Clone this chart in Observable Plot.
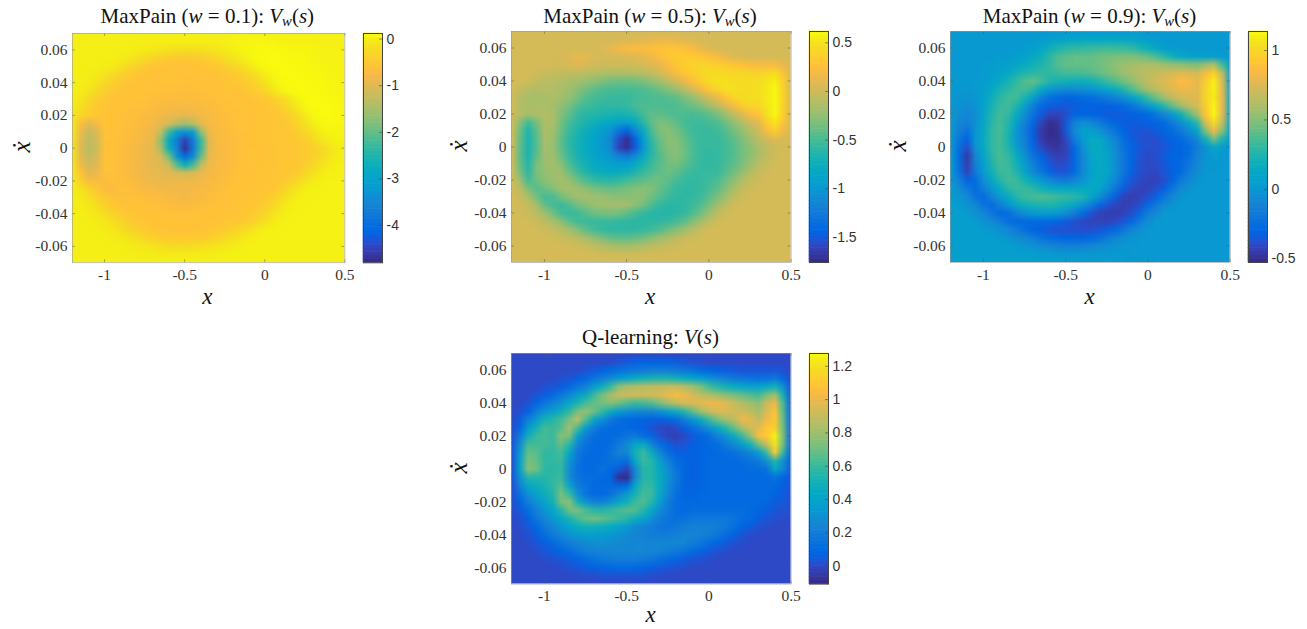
<!DOCTYPE html>
<html><head><meta charset="utf-8">
<script src="https://cdn.jsdelivr.net/npm/d3@7"></script>
<script src="https://cdn.jsdelivr.net/npm/@observablehq/plot@0.6"></script>
<style>
html,body{margin:0;padding:0;background:#fff}
#c{position:relative;width:1307px;height:629px;overflow:hidden}
#c svg{position:absolute;background:transparent;overflow:visible}
.t{position:absolute;font-family:"Liberation Serif",serif;color:#111;white-space:nowrap;transform:translate(-50%,-50%);line-height:.8}
.t sub{font-size:.7em;vertical-align:-.25em;line-height:0}
</style></head><body><div id="c"></div>
<script>
// Samples: x = -1.2..0.5 step 0.05 (35 columns); xdot = 0.07..-0.07 step -0.005 (29 rows)
const columns = 35, rows = 29;
const xTicks = [-1,-0.5,0,0.5];
const yTicks = [0.06,0.04,0.02,0,-0.02,-0.04,-0.06];

const maxPain01 = [
[0,0,0,0,0, 0,0,0,0,0, 0,0,0,0,0, 0,0,0,0,0, .01,.01,.02,.02,.02, .02,.02,.02,.02,.02, .02,.02,.02,.02,.02],
[0,0,0,0,0, 0,0,0,0,0, 0,0,0,0,0, 0,0,0,0,.02, .04,.06,.08,.08,.08, .06,.05,.04,.03,.03, .02,.02,.02,.02,.02],
[0,0,0,0,0, 0,0,0,-.02,-.05, -.08,-.12,-.15,-.18,-.2, -.2,-.18,-.14,-.1,-.05, 0,.04,.07,.09,.1, .1,.09,.08,.07,.06, .05,.04,.03,.03,.03],
[0,0,0,0,0, 0,-.03,-.08,-.15,-.25, -.35,-.42,-.48,-.52,-.52, -.5,-.48,-.4,-.32,-.22, -.12,-.03,.05,.09,.1, .11,.11,.1,.09,.08, .06,.05,.04,.03,.03],
[0,0,0,0,-.02, -.06,-.15,-.28,-.38,-.48, -.55,-.58,-.6,-.6,-.6, -.6,-.58,-.55,-.5,-.42, -.33,-.2,-.08,.02,.09, .11,.12,.11,.1,.09, .07,.06,.05,.04,.04],
[0,0,-.02,-.06,-.12, -.25,-.38,-.48,-.55,-.58, -.6,-.6,-.6,-.6,-.6, -.6,-.6,-.6,-.58,-.55, -.5,-.42,-.3,-.15,-.02, .07,.11,.12,.11,.1, .09,.08,.06,.05,.04],
[0,-.02,-.05,-.12,-.28, -.4,-.5,-.56,-.58,-.6, -.6,-.6,-.6,-.6,-.62, -.62,-.6,-.6,-.6,-.58, -.55,-.52,-.42,-.3,-.15, 0,.09,.12,.12,.11, .1,.09,.07,.06,.05],
[0,-.04,-.12,-.28,-.42, -.52,-.57,-.6,-.6,-.6, -.6,-.62,-.62,-.64,-.64, -.64,-.62,-.62,-.6,-.6, -.6,-.56,-.52,-.42,-.28, -.12,.02,.1,.12,.12, .11,.1,.08,.07,.05],
[-.02,-.1,-.28,-.42,-.52, -.58,-.6,-.6,-.62,-.62, -.65,-.66,-.68,-.68,-.68, -.68,-.66,-.64,-.62,-.6, -.6,-.6,-.58,-.56,-.52, -.42,-.28,-.12,.02,.1, .12,.11,.1,.08,.06],
[-.04,-.2,-.38,-.5,-.56, -.6,-.6,-.62,-.62,-.64, -.68,-.72,-.75,-.76,-.76, -.74,-.72,-.68,-.65,-.62, -.6,-.6,-.6,-.58,-.56, -.52,-.42,-.25,-.08,.06, .12,.12,.11,.09,.07],
[-.08,-.3,-.45,-.55,-.58, -.6,-.62,-.64,-.66,-.7, -.72,-.78,-.85,-.9,-.92, -.88,-.78,-.72,-.68,-.65, -.62,-.6,-.6,-.58,-.56, -.55,-.5,-.4,-.24,-.06, .08,.12,.11,.09,.07],
[-.1,-.7,-.95,-.75,-.56, -.6,-.62,-.64,-.68,-.72, -.8,-.95,-1.1,-1.4,-1.6, -1.4,-.95,-.76,-.7,-.66, -.62,-.6,-.6,-.58,-.56, -.55,-.54,-.48,-.34,-.18, -.02,.07,.09,.08,.07],
[-.12,-.85,-1.25,-1,-.6, -.6,-.62,-.66,-.7,-.76, -.85,-1.25,-2.3,-3.1,-3.3, -3.1,-1.7,-.85,-.72,-.68, -.64,-.6,-.6,-.58,-.56, -.55,-.54,-.52,-.42,-.3, -.14,-.01,.05,.06,.05],
[-.15,-.95,-1.3,-1.1,-.6, -.6,-.64,-.68,-.72,-.8, -.9,-1.7,-2.9,-3.7,-4.5, -3.7,-2.3,-.95,-.74,-.7, -.65,-.62,-.6,-.58,-.56, -.55,-.54,-.54,-.5,-.42, -.28,-.12,-.02,.03,.04],
[-.15,-1,-1.35,-1.15,-.6, -.62,-.66,-.72,-.76,-.85, -.95,-1.5,-2.7,-3.6,-4.7, -3.8,-2.3,-.95,-.76,-.7, -.66,-.62,-.6,-.6,-.58, -.56,-.54,-.54,-.52,-.48, -.4,-.28,-.14,-.03,.01],
[-.15,-.95,-1.25,-1.05,-.6, -.62,-.66,-.72,-.78,-.85, -.95,-1.1,-1.9,-3.3,-4, -3.5,-2,-.9,-.76,-.7, -.66,-.62,-.6,-.6,-.58, -.56,-.54,-.54,-.52,-.47, -.38,-.26,-.12,-.02,.01],
[-.12,-.85,-1.1,-.95,-.6, -.62,-.66,-.72,-.8,-.85, -.92,-.98,-1.2,-2.1,-2.7, -2.2,-1.3,-.85,-.74,-.7, -.66,-.62,-.6,-.6,-.58, -.56,-.54,-.52,-.5,-.42, -.3,-.15,-.04,.01,.02],
[-.1,-.6,-.95,-.85,-.62, -.62,-.66,-.7,-.78,-.85, -.9,-.92,-.95,-1.05,-1.1, -1.05,-.9,-.78,-.72,-.68, -.64,-.6,-.6,-.58,-.56, -.55,-.54,-.5,-.44,-.3, -.18,-.05,.01,.02,.03],
[-.05,-.4,-.7,-.7,-.68, -.62,-.64,-.68,-.72,-.8, -.85,-.88,-.86,-.84,-.84, -.82,-.78,-.74,-.7,-.66, -.62,-.6,-.58,-.58,-.56, -.55,-.5,-.42,-.3,-.14, -.03,.02,.03,.03,.03],
[-.02,-.14,-.35,-.52,-.68, -.72,-.62,-.64,-.68,-.72, -.75,-.78,-.8,-.8,-.78, -.76,-.72,-.7,-.66,-.62, -.6,-.58,-.58,-.56,-.54, -.5,-.4,-.25,-.08,0, .02,.03,.03,.03,.03],
[0,-.05,-.18,-.36,-.5, -.6,-.62,-.62,-.62,-.64, -.66,-.68,-.72,-.76,-.8, -.74,-.7,-.66,-.64,-.62, -.6,-.58,-.56,-.54,-.5, -.4,-.26,-.1,0,.02, .03,.03,.03,.03,.03],
[0,-.02,-.08,-.2,-.36, -.5,-.57,-.6,-.6,-.62, -.62,-.64,-.66,-.68,-.68, -.66,-.64,-.62,-.6,-.6, -.58,-.56,-.54,-.5,-.42, -.28,-.12,-.02,.02,.03, .03,.03,.03,.03,.03],
[0,0,-.03,-.08,-.2, -.34,-.46,-.55,-.58,-.6, -.6,-.6,-.6,-.6,-.6, -.6,-.6,-.6,-.6,-.58, -.56,-.54,-.5,-.42,-.3, -.14,-.03,.02,.03,.03, .03,.03,.03,.03,.03],
[0,0,0,-.03,-.08, -.18,-.32,-.44,-.52,-.56, -.58,-.6,-.6,-.6,-.6, -.6,-.6,-.58,-.56,-.54, -.54,-.5,-.42,-.3,-.15, -.04,.02,.03,.03,.03, .03,.03,.03,.03,.03],
[0,0,0,0,-.03, -.07,-.16,-.28,-.38,-.46, -.52,-.56,-.58,-.58,-.58, -.58,-.56,-.54,-.5,-.44, -.36,-.25,-.14,-.05,.01, .02,.03,.03,.03,.03, .03,.03,.03,.03,.03],
[0,0,0,0,0, -.02,-.05,-.1,-.18,-.27, -.36,-.42,-.46,-.48,-.48, -.46,-.44,-.4,-.33,-.25, -.16,-.08,-.02,.01,.02, .03,.03,.03,.03,.03, .03,.03,.03,.03,.03],
[0,0,0,0,0, 0,0,-.02,-.05,-.08, -.12,-.16,-.2,-.22,-.22, -.2,-.18,-.14,-.1,-.06, -.03,0,.02,.02,.02, .02,.02,.02,.02,.02, .02,.02,.02,.02,.02],
[0,0,0,0,0, 0,0,0,0,-.01, -.02,-.03,-.04,-.04,-.04, -.03,-.02,-.01,0,.01, .02,.02,.02,.02,.02, .02,.02,.02,.02,.02, .02,.02,.02,.02,.02],
[.01,.01,.01,.01,.01, .01,.01,.01,.01,.01, .01,.01,.01,.01,.01, .01,.01,.01,.01,.01, .01,.01,.01,.01,.01, .01,.01,.01,.01,.01, .01,.01,.01,.01,.01]
];
const maxPain05 = [
[.03,.03,.03,.03,.03, .03,.03,.03,.03,.03, .03,.03,.03,.03,.03, .03,.03,.03,.03,.03, .03,.03,.03,.03,.03, .03,.03,.03,.03,.03, .03,.03,.03,.03,.03],
[.03,.03,.03,.03,.03, .03,.03,.03,.03,.03, .03,.03,.04,.04,.05, .08,.1,.12,.14,.14, .12,.09,.06,.04,.03, .03,.03,.03,.03,.03, .03,.03,.03,.03,.03],
[.03,.03,.03,.03,.03, .03,.03,.03,.03,.03, .04,.05,.12,.17,.2, .22,.23,.24,.26,.28, .28,.25,.2,.14,.08, .05,.03,.03,.03,.03, .03,.03,.03,.03,.03],
[.03,.03,.03,.03,.03, .03,.04,.07,.12,.1, .05,.03,.03,.05,.07, .09,.12,.17,.24,.3, .33,.34,.33,.3,.25, .2,.14,.08,.05,.04, .03,.03,.03,.03,.03],
[.03,.03,.03,.03,.03, .02,.03,.05,.08,.05, .02,.0,0,0,0, .02,.03,.07,.12,.22, .3,.36,.38,.4,.38, .35,.33,.28,.25,.22, .2,.2,.2,.12,.03],
[.03,.03,.02,0,-.02, -.04,-.05,-.06,-.06,-.08, -.1,-.12,-.14,-.14,-.13, -.12,-.1,-.05,.02,.12, .22,.3,.36,.42,.45, .45,.43,.42,.42,.4, .38,.42,.46,.28,.03],
[.03,.02,0,-.05,-.08, -.1,-.12,-.15,-.18,-.22, -.27,-.32,-.36,-.38,-.38, -.36,-.32,-.26,-.18,-.08, .02,.12,.24,.36,.44, .48,.48,.46,.45,.45, .45,.5,.56,.36,.03],
[.02,-.05,-.1,-.13,-.12, -.12,-.15,-.2,-.28,-.36, -.42,-.47,-.5,-.5,-.5, -.5,-.47,-.43,-.38,-.3, -.22,-.1,.03,.17,.3, .4,.47,.48,.46,.46, .47,.52,.6,.38,.04],
[.02,-.1,-.15,-.17,-.15, -.14,-.18,-.25,-.35,-.45, -.5,-.53,-.55,-.55,-.55, -.52,-.5,-.48,-.47,-.45, -.42,-.33,-.25,-.12,.02, .14,.28,.4,.45,.46, .46,.53,.6,.4,.05],
[.02,-.12,-.15,-.14,-.15, -.17,-.25,-.35,-.47,-.53, -.56,-.58,-.58,-.58,-.55, -.5,-.47,-.47,-.48,-.48, -.47,-.42,-.38,-.32,-.2, -.08,.05,.2,.33,.4, .42,.5,.6,.38,.05],
[.01,-.1,-.18,-.14,-.12, -.15,-.3,-.42,-.55,-.6, -.63,-.66,-.68,-.7,-.68, -.62,-.5,-.42,-.42,-.45, -.47,-.48,-.5,-.47,-.42, -.33,-.2,-.07,.08,.2, .28,.46,.6,.36,.05],
[.01,-.28,-.52,-.35,-.14, -.15,-.35,-.5,-.6,-.68, -.72,-.8,-.85,-.92,-.95, -.85,-.6,-.42,-.32,-.35, -.42,-.5,-.53,-.53,-.5, -.47,-.38,-.25,-.12,0, .1,.35,.5,.28,.04],
[.01,-.38,-.64,-.42,-.15, -.18,-.38,-.55,-.65,-.75, -.85,-.95,-1.05,-1.3,-1.45, -1.15,-.8,-.5,-.32,-.28, -.35,-.45,-.53,-.55,-.55, -.52,-.45,-.35,-.24,-.12, 0,.22,.35,.18,.03],
[.01,-.4,-.66,-.45,-.16, -.2,-.42,-.58,-.7,-.8, -.9,-1,-1.15,-1.55,-1.72, -1.45,-.95,-.58,-.38,-.28, -.3,-.4,-.5,-.55,-.55, -.55,-.5,-.42,-.32,-.2, -.08,.02,.1,.05,.03],
[.01,-.42,-.66,-.45,-.18, -.22,-.42,-.58,-.7,-.8, -.9,-1,-1.12,-1.6,-1.72, -1.5,-1,-.62,-.42,-.3, -.28,-.38,-.48,-.55,-.56, -.56,-.52,-.45,-.36,-.27, -.15,-.07,0,.02,.03],
[.01,-.42,-.66,-.42,-.2, -.2,-.38,-.55,-.68,-.78, -.88,-.95,-1.05,-1.2,-1.3, -1.15,-.85,-.6,-.46,-.34, -.28,-.38,-.48,-.56,-.58, -.56,-.52,-.45,-.36,-.27, -.15,-.07,0,.03,.03],
[.01,-.4,-.62,-.35,-.22, -.18,-.28,-.48,-.62,-.72, -.82,-.88,-.92,-.95,-.95, -.85,-.68,-.54,-.44,-.36, -.34,-.42,-.5,-.56,-.58, -.56,-.5,-.42,-.33,-.22, -.1,-.03,.02,.03,.03],
[.01,-.35,-.58,-.32,-.25, -.2,-.2,-.38,-.52,-.64, -.74,-.78,-.8,-.78,-.75, -.66,-.56,-.48,-.42,-.38, -.42,-.5,-.55,-.56,-.56, -.55,-.46,-.36,-.25,-.13, -.04,.01,.03,.03,.03],
[.02,-.2,-.5,-.38,-.27, -.22,-.17,-.24,-.36,-.48, -.56,-.6,-.6,-.58,-.52, -.46,-.42,-.38,-.38,-.42, -.5,-.55,-.57,-.56,-.53, -.48,-.38,-.26,-.13,-.05, 0,.02,.03,.03,.03],
[.02,-.08,-.32,-.45,-.38, -.3,-.2,-.17,-.2,-.27, -.34,-.38,-.4,-.38,-.34, -.3,-.28,-.32,-.4,-.48, -.56,-.58,-.58,-.56,-.5, -.42,-.3,-.16,-.05,0, .02,.03,.03,.03,.03],
[.03,-.02,-.14,-.35,-.5, -.48,-.36,-.27,-.2,-.18, -.2,-.22,-.26,-.28,-.28, -.26,-.28,-.36,-.45,-.54, -.58,-.58,-.57,-.53,-.44, -.33,-.2,-.07,0,.02, .03,.03,.03,.03,.03],
[.03,0,-.05,-.18,-.4, -.5,-.55,-.46,-.36,-.28, -.22,-.2,-.18,-.17,-.18, -.26,-.36,-.48,-.57,-.6, -.6,-.58,-.54,-.46,-.34, -.2,-.08,0,.02,.03, .03,.03,.03,.03,.03],
[.03,.02,-.02,-.08,-.2, -.36,-.5,-.55,-.52,-.45, -.38,-.35,-.33,-.36,-.42, -.5,-.57,-.6,-.62,-.62, -.6,-.56,-.48,-.36,-.22, -.08,0,.02,.03,.03, .03,.03,.03,.03,.03],
[.03,.03,.02,-.03,-.08, -.14,-.28,-.42,-.52,-.54, -.56,-.56,-.56,-.57,-.58, -.6,-.6,-.6,-.58,-.56, -.5,-.42,-.3,-.18,-.06, 0,.02,.03,.03,.03, .03,.03,.03,.03,.03],
[.03,.03,.03,.02,0, -.04,-.1,-.18,-.3,-.42, -.5,-.55,-.58,-.58,-.58, -.58,-.55,-.52,-.46,-.38, -.3,-.2,-.1,-.02,.02, .03,.03,.03,.03,.03, .03,.03,.03,.03,.03],
[.03,.03,.03,.03,.02, .01,-.02,-.05,-.1,-.17, -.25,-.33,-.4,-.42,-.42, -.4,-.36,-.28,-.2,-.14, -.08,-.03,0,.02,.03, .03,.03,.03,.03,.03, .03,.03,.03,.03,.03],
[.03,.03,.03,.03,.03, .03,.03,.02,0,-.02, -.06,-.1,-.14,-.17,-.17, -.15,-.12,-.08,-.05,-.02, 0,.02,.03,.03,.03, .03,.03,.03,.03,.03, .03,.03,.03,.03,.03],
[.03,.03,.03,.03,.03, .03,.03,.03,.03,.03, .02,.01,0,0,0, 0,.01,.02,.02,.03, .03,.03,.03,.03,.03, .03,.03,.03,.03,.03, .03,.03,.03,.03,.03],
[.03,.03,.03,.03,.03, .03,.03,.03,.03,.03, .03,.03,.03,.03,.03, .03,.03,.03,.03,.03, .03,.03,.03,.03,.03, .03,.03,.03,.03,.03, .03,.03,.03,.03,.03]
];
const maxPain09 = [
[.01,.01,.01,.01,.01, .01,.01,.01,.01,.01, .01,.01,.01,.01,.02, .02,.02,.02,.02,.02, .02,.02,.02,.01,.01, .01,.01,.01,.01,.01, .01,.01,.01,.01,.01],
[.01,.01,.01,.01,.01, .01,.01,.01,.01,.01, .02,.03,.04,.06,.08, .1,.12,.12,.12,.12, .12,.12,.1,.07,.04, .02,.01,.01,.01,.01, .01,.01,.01,.01,.01],
[.01,.01,.01,.01,.01, .01,.01,.01,.02,.03, .05,.1,.18,.24,.28, .3,.3,.32,.33,.33, .33,.32,.3,.24,.18, .1,.05,.03,.02,.01, .01,.01,.01,.01,.01],
[.01,.01,.01,.01,.01, .01,.02,.03,.05,.07, .12,.18,.28,.36,.4, .42,.42,.42,.44,.46, .47,.48,.48,.46,.42, .36,.28,.18,.12,.08, .06,.05,.04,.03,.01],
[.01,.01,.01,.01,.02, .02,.04,.06,.1,.14, .2,.25,.3,.38,.42, .42,.42,.43,.45,.48, .52,.55,.58,.6,.6, .6,.56,.54,.52,.5, .48,.55,.6,.35,.03],
[.01,.01,.01,.01,.03, .04,.07,.12,.2,.25, .28,.3,.3,.32,.35, .35,.36,.38,.42,.46, .5,.56,.6,.63,.66, .68,.7,.72,.76,.74, .72,.85,.95,.65,.04],
[.01,.01,.01,.02,.03, .07,.14,.22,.3,.38, .42,.34,.25,.22,.2, .18,.18,.2,.25,.32, .38,.45,.52,.6,.66, .72,.76,.8,.87,.85, .78,.95,1.1,.75,.05],
[.01,0,0,.02,.05, .13,.22,.28,.34,.35, .28,.12,0,-.05,-.08, -.08,-.06,-.02,.02,.08, .15,.25,.36,.48,.58, .65,.72,.77,.8,.8, .78,.98,1.1,.78,.06],
[.01,-.02,-.03,.0,.06, .18,.28,.34,.34,.22, .05,-.14,-.24,-.28,-.3, -.3,-.27,-.25,-.22,-.18, -.12,-.05,.06,.18,.32, .45,.55,.66,.72,.75, .76,.98,1.08,.8,.07],
[.01,-.03,-.06,-.03,.06, .22,.32,.34,.24,.05, -.15,-.28,-.33,-.34,-.36, -.34,-.32,-.32,-.32,-.32, -.3,-.27,-.22,-.12,0, .14,.28,.42,.55,.66, .72,.95,1.12,.8,.08],
[.01,-.06,-.1,-.05,.08, .26,.34,.3,.15,-.05, -.22,-.34,-.42,-.42,-.38, -.3,-.3,-.3,-.32,-.34, -.34,-.34,-.32,-.3,-.27, -.2,-.1,.03,.2,.4, .58,.9,1.12,.78,.08],
[.01,-.1,-.14,-.04,.1, .28,.35,.26,.05,-.13, -.28,-.42,-.5,-.48,-.35, -.15,-.05,-.1,-.17,-.25, -.3,-.33,-.34,-.34,-.32, -.3,-.26,-.16,-.05,.12, .3,.75,1.02,.68,.06],
[.01,-.15,-.22,-.02,.12, .3,.36,.24,.0,-.18, -.33,-.46,-.52,-.5,-.35, -.1,.05,.05,-.02,-.12, -.22,-.3,-.35,-.36,-.36, -.34,-.3,-.26,-.18,-.05, .1,.5,.82,.5,.04],
[.01,-.2,-.3,.0,.14, .3,.35,.22,.0,-.15, -.32,-.45,-.5,-.5,-.4, -.18,.02,.12,.12,.0, -.12,-.25,-.33,-.37,-.38, -.38,-.34,-.3,-.27,-.2, -.08,.2,.45,.25,.01],
[.01,-.24,-.38,-.03,.12, .3,.35,.25,.05,-.12, -.28,-.4,-.47,-.48,-.42, -.28,-.05,.12,.14,.05, -.08,-.22,-.3,-.36,-.38, -.38,-.36,-.32,-.3,-.26, -.16,-.02,.12,.03,0],
[.01,-.26,-.46,-.1,.08, .28,.36,.3,.15,-.04, -.22,-.32,-.4,-.44,-.42, -.3,-.1,.08,.14,.08, -.05,-.2,-.3,-.37,-.4, -.38,-.34,-.3,-.3,-.24, -.12,-.03,.02,0,0],
[.01,-.25,-.44,-.14,.05, .25,.35,.32,.2,.02, -.15,-.26,-.35,-.4,-.39, -.29,-.1,.06,.13,.09, -.05,-.2,-.31,-.38,-.4, -.39,-.35,-.31,-.28,-.2, -.09,-.01,.01,0,0],
[.01,-.22,-.42,-.18,.02, .2,.33,.34,.25,.08, -.08,-.2,-.3,-.36,-.36, -.28,-.1,.05,.12,.1, -.05,-.2,-.32,-.38,-.4, -.4,-.36,-.32,-.27,-.16, -.06,0,0,0,0],
[.02,-.14,-.3,-.26,-.05, .1,.26,.34,.32,.22, .1,0,-.08,-.15,-.17, -.12,-.02,.08,.12,.05, -.1,-.24,-.36,-.4,-.42, -.42,-.38,-.3,-.18,-.08, -.02,0,0,0,0],
[.02,-.06,-.18,-.26,-.16, .0,.14,.28,.32,.32, .28,.2,.14,.1,.1, .1,.12,.12,.08,-.03, -.2,-.33,-.4,-.42,-.42, -.38,-.32,-.2,-.08,-.02, 0,0,0,0,0],
[.03,.0,-.08,-.22,-.26, -.12,.02,.14,.26,.32, .35,.36,.35,.32,.3, .28,.24,.12,-.03,-.2, -.32,-.42,-.44,-.42,-.38, -.3,-.2,-.08,-.02,0, 0,0,0,0,0],
[.04,.03,-.02,-.1,-.22, -.26,-.15,-.02,.1,.18, .22,.24,.25,.22,.18, .1,-.02,-.15,-.28,-.36, -.42,-.44,-.42,-.38,-.28, -.18,-.08,-.02,0,0, 0,0,0,0,0],
[.04,.04,.02,-.03,-.1, -.2,-.28,-.25,-.15,-.05, .0,.02,.02,.0,-.06, -.15,-.27,-.36,-.42,-.44, -.44,-.42,-.38,-.28,-.16, -.06,0,0,0,0, 0,0,0,0,0],
[.05,.05,.04,.02,-.03, -.08,-.16,-.24,-.28,-.28, -.28,-.27,-.28,-.3,-.34, -.37,-.4,-.42,-.42,-.42, -.4,-.36,-.28,-.16,-.06, 0,0,0,0,0, 0,0,0,0,0],
[.05,.05,.05,.05,.03, .0,-.04,-.1,-.18,-.24, -.3,-.33,-.36,-.37,-.37, -.38,-.38,-.38,-.36,-.33, -.28,-.2,-.12,-.04,0, 0,0,0,0,0, 0,0,0,0,0],
[.05,.05,.05,.05,.05, .04,.02,-.02,-.06,-.1, -.16,-.22,-.26,-.28,-.3, -.3,-.3,-.28,-.24,-.18, -.12,-.06,-.02,0,0, 0,0,0,0,0, 0,0,0,0,0],
[.05,.05,.05,.05,.05, .05,.05,.04,.03,.0, -.03,-.06,-.1,-.12,-.14, -.14,-.12,-.1,-.07,-.04, -.02,0,0,0,0, 0,0,0,0,0, 0,0,0,0,0],
[.05,.05,.05,.05,.05, .05,.05,.05,.05,.05, .04,.03,.02,.01,.0, 0,0,.01,.01,.01, .01,.01,0,0,0, 0,0,0,0,0, 0,0,0,0,0],
[.05,.05,.05,.05,.05, .05,.05,.05,.05,.05, .05,.05,.04,.04,.04, .03,.03,.03,.02,.02, .02,.01,.01,.01,.01, 0,0,0,0,0, 0,0,0,0,0]
];
const qLearning = [
[0,0,0,0,0, 0,0,0,0,0, 0,0,0,0,0, 0,0,0,0,0, 0,0,0,0,0, 0,0,0,0,0, 0,0,0,0,0],
[0,0,0,0,0, 0,0,0,0,0, 0,0,0,.02,.04, .06,.07,.07,.07,.06, .05,.03,.02,.01,0, 0,0,0,0,0, 0,0,0,0,0],
[0,0,0,0,0, 0,0,0,0,.02, .04,.07,.1,.13,.15, .17,.18,.2,.2,.2, .18,.16,.14,.1,.08, .07,.05,.04,.03,.03, .03,.03,.03,.02,0],
[0,0,0,0,0, 0,.02,.03,.06,.1, .15,.2,.28,.35,.4, .46,.5,.52,.53,.53, .5,.46,.42,.38,.32, .26,.22,.18,.16,.15, .14,.14,.18,.1,0],
[0,0,0,0,.02, .03,.05,.1,.16,.22, .35,.48,.6,.75,.82, .84,.86,.88,.88,.9, .9,.85,.8,.72,.62, .56,.5,.46,.42,.4, .4,.45,.5,.3,.02],
[0,0,.0,.03,.05, .1,.16,.25,.35,.45, .6,.72,.82,.9,.92, .92,.92,.92,.95,1, 1.03,1,.94,.88,.84, .8,.75,.72,.68,.65, .62,.72,.8,.5,.03],
[0,0,.03,.08,.15, .22,.3,.42,.52,.62, .68,.72,.75,.7,.64, .6,.62,.65,.72,.8, .88,.95,.96,.98,1, 1,.97,.9,.85,.8, .76,.9,1,.62,.04],
[0,.02,.07,.2,.3, .38,.48,.58,.72,.78, .7,.58,.45,.35,.3, .27,.25,.25,.3,.38, .46,.55,.66,.8,.9, .95,.95,.92,.92,.88, .82,.95,1.08,.65,.05],
[0,.05,.2,.35,.5, .55,.62,.72,.88,.65, .42,.3,.18,.12,.1, .08,.08,.06,.06,.08, .12,.2,.32,.46,.6, .72,.8,.88,1,.98, .88,1,1.1,.68,.05],
[.01,.1,.35,.5,.62, .6,.65,.8,.62,.35, .2,.13,.1,.1,.1, .08,.06,.03,0,-.02, .01,.06,.12,.2,.3, .42,.55,.68,.82,.92, .98,1.1,1.12,.7,.05],
[.02,.18,.48,.6,.62, .6,.75,.72,.38,.2, .13,.1,.1,.12,.15, .18,.12,.08,.02,-.02, -.03,.0,.04,.08,.12, .22,.32,.45,.6,.76, 1.05,1.1,1.25,.72,.05],
[.03,.28,.62,.62,.62, .6,.68,.55,.25,.14, .1,.1,.12,.18,.26, .4,.45,.25,.12,.06, .02,.03,.06,.08,.1, .12,.18,.26,.36,.5, .7,.9,1.2,.7,.05],
[.03,.35,.68,.66,.58, .58,.62,.42,.18,.12, .1,.1,.14,.22,.26, .5,.6,.45,.25,.12, .06,.06,.07,.08,.09, .1,.12,.14,.18,.25, .36,.6,1.1,.58,.05],
[.03,.38,.72,.68,.58, .58,.6,.32,.16,.1, .1,.12,.14,.14,.12, .42,.6,.55,.38,.22, .12,.08,.06,.08,.1, .1,.1,.1,.12,.14, .18,.3,.55,.3,.05],
[.03,.38,.75,.7,.58, .56,.58,.28,.14,.1, .1,.14,.1,.05,-.02, .25,.55,.55,.42,.28, .15,.08,.06,.08,.1, .1,.1,.1,.1,.12, .12,.15,.42,.25,.05],
[.03,.3,.55,.55,.55, .58,.6,.28,.15,.12, .12,.1,.08,-.08,-.1, .25,.55,.55,.45,.3, .17,.08,.06,.08,.1, .1,.1,.1,.1,.1, .1,.1,.14,.08,.03],
[.02,.22,.42,.48,.52, .58,.65,.4,.2,.14, .1,.1,.1,.08,.1, .4,.58,.58,.45,.28, .15,.08,.07,.08,.1, .1,.1,.1,.1,.1, .1,.1,.1,.06,.03],
[.02,.14,.3,.4,.48, .55,.72,.58,.3,.15, .1,.1,.14,.22,.35, .5,.62,.6,.42,.25, .13,.08,.08,.1,.1, .1,.1,.1,.1,.1, .1,.1,.08,.05,.02],
[.01,.08,.2,.3,.4, .5,.72,.76,.5,.32, .22,.22,.3,.4,.5, .6,.65,.55,.36,.2, .12,.1,.1,.1,.1, .1,.1,.1,.1,.1, .1,.1,.05,.04,.02],
[.01,.04,.12,.22,.32, .42,.55,.7,.72,.62, .56,.55,.58,.62,.65, .65,.55,.42,.28,.17, .12,.1,.12,.12,.12, .12,.12,.12,.12,.1, .08,.06,.03,.02,.01],
[0,.02,.07,.16,.25, .33,.42,.52,.62,.68, .7,.68,.64,.6,.55, .48,.4,.3,.2,.15, .13,.14,.16,.17,.17, .18,.17,.15,.12,.1, .06,.03,.02,.01,0],
[0,.01,.04,.1,.18, .25,.33,.4,.46,.5, .5,.48,.44,.4,.35, .28,.24,.2,.16,.15, .17,.2,.22,.22,.22, .2,.17,.13,.08,.05, .02,.01,0,0,0],
[0,0,.02,.06,.12, .18,.24,.3,.34,.36, .36,.35,.33,.3,.27, .24,.22,.2,.2,.2, .22,.24,.24,.22,.2, .16,.12,.07,.03,.01, 0,0,0,0,0],
[0,0,.01,.03,.06, .1,.15,.2,.24,.27, .3,.3,.28,.27,.26, .25,.25,.25,.25,.25, .25,.24,.2,.16,.12, .08,.05,.02,.01,0, 0,0,0,0,0],
[0,0,0,.01,.03, .05,.08,.12,.16,.2, .22,.24,.25,.25,.25, .25,.25,.24,.23,.2, .17,.14,.1,.07,.04, .02,.01,0,0,0, 0,0,0,0,0],
[0,0,0,0,.01, .02,.03,.05,.08,.11, .14,.17,.18,.2,.2, .2,.18,.16,.13,.1, .08,.05,.03,.02,.01, 0,0,0,0,0, 0,0,0,0,0],
[0,0,0,0,0, 0,.01,.02,.03,.05, .06,.08,.09,.1,.1, .09,.08,.06,.04,.03, .02,.01,0,0,0, 0,0,0,0,0, 0,0,0,0,0],
[0,0,0,0,0, 0,0,0,0,.01, .01,.02,.02,.02,.02, .02,.02,.01,.01,0, 0,0,0,0,0, 0,0,0,0,0, 0,0,0,0,0],
[0,0,0,0,0, 0,0,0,0,0, 0,0,0,0,0, 0,0,0,0,0, 0,0,0,0,0, 0,0,0,0,0, 0,0,0,0,0]
];

const parula = ["#352a87","#363093","#3637a0","#353dad","#3243ba","#2c4ac7","#2053d4","#0f5cdd","#0363e1","#0268e1","#046de0","#0871de","#0d75dc","#1079da","#127dd8","#1481d6","#1485d4","#1389d3","#108ed2","#0c93d2","#0998d1","#079ccf","#06a0cd","#06a4ca","#06a7c6","#07a9c2","#0aacbe","#0faeb9","#15b1b4","#1db3af","#25b5a9","#2eb7a4","#38b99e","#42bb98","#4dbc92","#59bd8c","#65be86","#71bf80","#7cbf7b","#87bf77","#92bf73","#9cbf6f","#a5be6b","#aebe67","#b7bd64","#c0bc60","#c8bc5d","#d1bb59","#d9ba56","#e1b952","#e9b94e","#f1b94a","#f8bb44","#fdbe3d","#ffc337","#fec832","#fccd2e","#fad32a","#f8d826","#f5de21","#f5e41d","#f5eb18","#f6f313","#f9fb0e"];

const panels = [
 {grid:maxPain01, left:71.7,  top:32.5, w:272.4, h:229.3, barL:362.7, barTop:32.8, dom:[-4.8,0.12], barTicks:[0,-1,-2,-3,-4], title:'MaxPain (<i>w</i> = 0.1): <i>V<sub>w</sub></i>(<i>s</i>)', tx:207.3, ty:16, lx:22, xlOff:35},
 {grid:maxPain05, left:510.7, top:30.7, w:279.6, h:231,   barL:808.7, barTop:30.7, dom:[-1.757,0.616], barTicks:[0.5,0,-0.5,-1,-1.5], title:'MaxPain (<i>w</i> = 0.5): <i>V<sub>w</sub></i>(<i>s</i>)', tx:650, ty:16, lx:459, xlOff:35},
 {grid:maxPain09, left:950,   top:30.7, w:279.7, h:231,   barL:1247.7, barTop:30.7, dom:[-0.527,1.137], barTicks:[1,0.5,0,-0.5], title:'MaxPain (<i>w</i> = 0.9): <i>V<sub>w</sub></i>(<i>s</i>)', tx:1089.5, ty:16, lx:898, xlOff:35},
 {grid:qLearning, left:510.7, top:352.7, w:279.6, h:230.6, barL:808.7, barTop:352.7, dom:[-0.108,1.277], barTicks:[1.2,1,0.8,0.6,0.4,0.2,0], title:'Q-learning: <i>V</i>(<i>s</i>)', tx:650.5, ty:337, lx:459, xlOff:32}
];

const c = document.getElementById("c");
const serif = '"Liberation Serif",serif', sans = '"Liberation Sans",sans-serif';
const ramp = d3.piecewise(d3.interpolateRgb, parula);
function place(svg, l, t){ svg.style.left = l+"px"; svg.style.top = t+"px"; c.appendChild(svg); }
function label(html, x, y, size, rot){
  const d = document.createElement("div"); d.className="t"; d.innerHTML=html;
  d.style.left=x+"px"; d.style.top=y+"px"; d.style.fontSize=size+"px";
  if(rot) d.style.transform="translate(-50%,-50%) rotate(-90deg)";
  c.appendChild(d);
}
const fmt = d => String(d);
for (const p of panels) {
  const mL=50, mB=25, mT=1, mR=1;
  const values = p.grid.flatMap(r => d3.range(columns).map(i => r[Math.min(i, r.length-1)]));
  const heat = Plot.plot({
    width:p.w+mL+mR, height:p.h+mT+mB, marginLeft:mL, marginRight:mR, marginTop:mT, marginBottom:mB,
    x:{domain:[-1.2,0.5]}, y:{domain:[-0.07,0.07]},
    color:{type:"linear", domain:p.dom, interpolate:ramp, clamp:true},
    style:{fontFamily:serif, fontSize:"15.5px", color:"#333", background:"transparent", overflow:"visible"},
    marks:[
      Plot.raster(values,{width:columns,height:rows,x1:-1.225,x2:0.525,y1:0.0725,y2:-0.0725,imageRendering:"auto",clip:true}),
      Plot.axisX(xTicks,{tickSize:0,tickPadding:6,tickFormat:fmt,label:null}),
      Plot.axisY(yTicks,{tickSize:0,tickPadding:5,tickFormat:fmt,label:null}),
      Plot.tickX(xTicks,{x:d=>d,insetTop:p.h-3,stroke:"#555",strokeWidth:.5}),
      Plot.tickX(xTicks,{x:d=>d,insetBottom:p.h-3,stroke:"#555",strokeWidth:.5}),
      Plot.tickY(yTicks,{y:d=>d,insetRight:p.w-3,stroke:"#555",strokeWidth:.5}),
      Plot.tickY(yTicks,{y:d=>d,insetLeft:p.w-3,stroke:"#555",strokeWidth:.5}),
      Plot.frame({stroke:"#999",strokeWidth:.6})
    ]
  });
  place(heat, p.left-mL, p.top-mT);

  const levels = d3.range(64);
  const step = (p.dom[1]-p.dom[0])/64;
  const bw = 19, bR = 46;
  const bar = Plot.plot({
    width:bw+bR+1, height:p.h+mT+mB, marginLeft:1, marginRight:bR, marginTop:mT, marginBottom:mB,
    x:{domain:[0,1],axis:null}, y:{domain:p.dom},
    color:{type:"linear", domain:p.dom, interpolate:ramp, clamp:true},
    style:{fontFamily:sans, fontSize:"14px", color:"#333", background:"transparent", overflow:"visible"},
    marks:[
      Plot.rect(levels,{x1:0,x2:1,y1:i=>p.dom[0]+i*step,y2:i=>p.dom[0]+(i+1)*step,fill:i=>p.dom[0]+(i+.5)*step,inset:-0.3}),
      Plot.axisY(p.barTicks,{anchor:"right",tickSize:0,tickPadding:4,tickFormat:fmt,label:null}),
      Plot.tickY(p.barTicks,{y:d=>d,insetLeft:bw-3,stroke:"#444",strokeWidth:.6}),
      Plot.frame({stroke:"#444",strokeWidth:1})
    ]
  });
  place(bar, p.barL-1, p.barTop-mT);

  label(p.title, p.tx, p.ty, 21);
  label('<i>x</i>', p.tx, p.top+p.h+p.xlOff, 23);
  label('<i>x&#775;</i>', p.lx, p.top+p.h/2, 25, true);
}
</script></body></html>
